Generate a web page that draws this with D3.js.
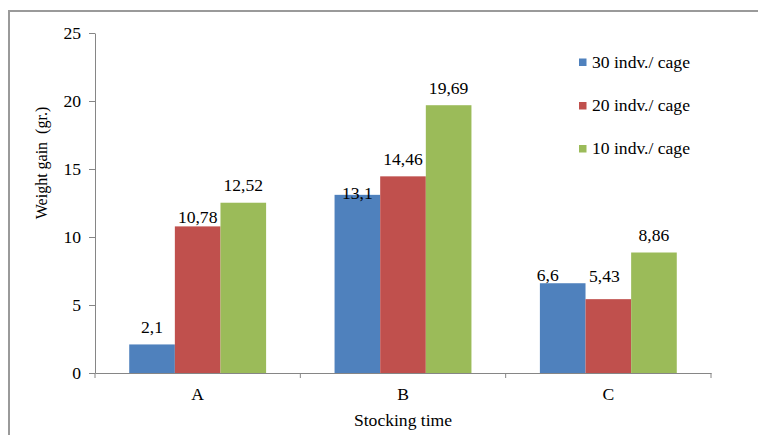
<!DOCTYPE html>
<html>
<head>
<meta charset="utf-8">
<script src="https://cdn.jsdelivr.net/npm/d3@7"></script>
<style>
  html, body { margin: 0; padding: 0; background: #fff; }
  svg { display: block; }
  text { font-family: "Liberation Serif", "Times New Roman", serif; fill: #000; white-space: pre; }
</style>
</head>
<body>
<script>
// ---- data ----
const categories = ["A", "B", "C"];
const seriesNames = ["30 indv./ cage", "20 indv./ cage", "10 indv./ cage"];
const values30 = [2.1, 13.1, 6.6];
const values20 = [10.78, 14.46, 5.43];
const values10 = [12.52, 19.69, 8.86];
const yTicks = [0, 5, 10, 15, 20, 25];
const xTitle = "Stocking time";
const yTitle = "Weight gain  (gr.)";

// ---- styling / layout ----
const colors = ["#4F81BD", "#C0504D", "#9BBB59"];
const W = 758, H = 435;
const plot = { left: 95, right: 711, top: 33, bottom: 373 };
const fontSize = 16;
const sx = 1.1; // horizontal stretch of the source image
// label nudges (Excel-style overlap avoidance), [series][category] -> [dx, dy]
const labelNudge = [
  [[0, 0], [0, 15.5], [-15, 9.5]],
  [[0, 8], [0, 0], [-4, -6]],
  [[0, 0], [0, 0], [0, 0]]
];

const seriesValues = [values30, values20, values10];

const svg = d3.select("body").append("svg").attr("width", W).attr("height", H);

// helper: place stretched text
function place(sel, xf, yf) {
  sel.attr("x", 0).attr("y", 0)
    .attr("transform", (d, i) => `translate(${xf(d, i)},${yf(d, i)}) scale(${sx},1)`);
}

// outer frame (cropped at right/bottom)
svg.append("path")
  .attr("d", `M9,${H + 2} L9,11 L${W + 2},11`)
  .attr("fill", "none").attr("stroke", "#9a9a9a").attr("stroke-width", 2);

const x0 = d3.scaleBand().domain(categories).range([plot.left, plot.right]).paddingInner(0).paddingOuter(0);
const x1 = d3.scaleBand().domain(d3.range(seriesNames.length)).range([0, x0.bandwidth()]).paddingInner(0).paddingOuter(0.75);
const y = d3.scaleLinear().domain([0, 25]).range([plot.bottom, plot.top]);

const fmt = v => String(v).replace(".", ",");

// bars
seriesNames.forEach((name, si) => {
  svg.append("g").selectAll("rect")
    .data(categories.map((c, ci) => ({ c, v: seriesValues[si][ci] })))
    .join("rect")
    .attr("x", d => x0(d.c) + x1(si))
    .attr("y", d => y(d.v))
    .attr("width", x1.bandwidth())
    .attr("height", d => y(0) - y(d.v))
    .attr("fill", colors[si]);
});

// axes
const axisColor = "#868686";
const yAxis = svg.append("g").attr("transform", `translate(${plot.left},0)`)
  .call(d3.axisLeft(y).tickValues(yTicks).tickSize(6).tickSizeOuter(0).tickPadding(8).tickFormat(d => d));
yAxis.select(".domain").attr("stroke", axisColor);
yAxis.selectAll(".tick line").attr("stroke", axisColor);
yAxis.selectAll("text").attr("font-size", fontSize).attr("fill", "#000")
  .attr("x", null).attr("dy", "0.32em")
  .attr("transform", `translate(-14,0) scale(${sx},1)`);

const xAxis = svg.append("g").attr("transform", `translate(0,${plot.bottom})`)
  .call(d3.axisBottom(x0).tickSize(0).tickPadding(16));
xAxis.select(".domain").attr("stroke", axisColor);
xAxis.selectAll("text").attr("font-size", fontSize).attr("fill", "#000")
  .attr("transform", `scale(${sx},1)`).attr("x", 0);
// boundary tick marks between categories
const bounds = categories.map(c => x0(c)).concat([x0(categories[categories.length - 1]) + x0.bandwidth()]);
svg.append("g").selectAll("line").data(bounds).join("line")
  .attr("x1", d => d).attr("x2", d => d)
  .attr("y1", plot.bottom).attr("y2", plot.bottom + 5)
  .attr("stroke", axisColor);

// data labels
seriesNames.forEach((name, si) => {
  svg.append("g").selectAll("text")
    .data(categories.map((c, ci) => ({ c, ci, v: seriesValues[si][ci] })))
    .join("text")
    .call(place,
      d => x0(d.c) + x1(si) + x1.bandwidth() / 2 + labelNudge[si][d.ci][0],
      d => y(d.v) - 11.5 + labelNudge[si][d.ci][1])
    .attr("text-anchor", "middle")
    .attr("font-size", fontSize)
    .text(d => fmt(d.v));
});

// axis titles
svg.append("text")
  .datum(0)
  .call(place, () => (plot.left + plot.right) / 2, () => 426)
  .attr("text-anchor", "middle").attr("font-size", fontSize)
  .text(xTitle);
svg.append("text")
  .attr("transform", `translate(47,163) rotate(-90)`)
  .attr("text-anchor", "middle").attr("font-size", fontSize)
  .text(yTitle);

// legend
const legend = svg.append("g");
const legendRows = [62, 105.5, 148.5];
seriesNames.forEach((name, si) => {
  const g = legend.append("g").attr("transform", `translate(579,${legendRows[si]})`);
  g.append("rect").attr("x", 0).attr("y", -3.5).attr("width", 7.5).attr("height", 7.5).attr("fill", colors[si]);
  g.append("text").attr("transform", `translate(13,5.5) scale(${sx},1)`).attr("font-size", fontSize).text(name);
});
</script>
</body>
</html>
